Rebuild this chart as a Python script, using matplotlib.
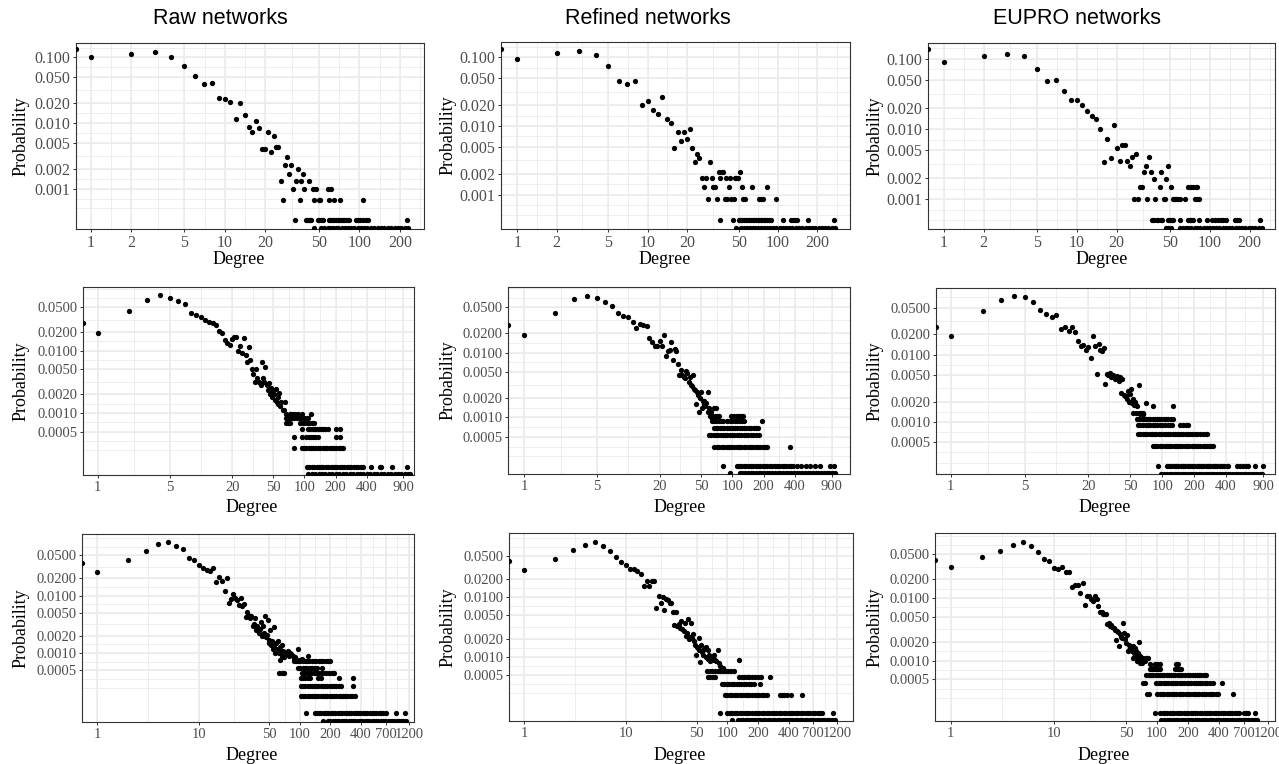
import matplotlib
matplotlib.use("Agg")
import matplotlib.pyplot as plt
import numpy as np

plt.rcParams['font.family'] = ['Liberation Serif', 'DejaVu Serif']

# ---------------- data (degree, probability) ----------------
# row 1
a1_pts = [(0.78, 0.1355), (1, 0.1), (2, 0.114), (3, 0.1206), (4, 0.1), (5, 0.0729), (6, 0.0513), (7, 0.0396),
          (8, 0.0415), (9, 0.0245), (10, 0.0231), (11, 0.021), (12, 0.01145), (13, 0.0201), (14, 0.0132),
          (15, 0.00863), (16, 0.00733), (17, 0.0109), (18, 0.00844), (19, 0.00408), (20, 0.00408), (21, 0.00733),
          (22, 0.00367), (23, 0.00637), (24, 0.00438), (25, 0.00438), (26, 0.00133), (27, 0.000667), (28, 0.00233),
          (29, 0.003), (30, 0.00167), (31, 0.00233), (32, 0.001), (34, 0.00133), (35, 0.002), (36, 0.000667),
          (37, 0.00133), (38, 0.00167), (39, 0.001), (42, 0.00133), (45, 0.001), (46, 0.000667), (48, 0.001),
          (50, 0.000667), (51, 0.000667), (59, 0.001), (62, 0.001), (60, 0.000667), (65, 0.000667), (72, 0.000667),
          (107, 0.000667)]
a1_levels = [0.000333, 0.00025]
a1_level_deg = [
    [33, 40, 41, 42, 43, 44, 49, 50, 52, 54, 60, 61, 63, 65, 67, 69, 71, 73, 75, 77, 80, 82, 84, 94, 98, 102, 107,
     112, 117, 227],
    [46, 52, 55, 58, 61, 64, 67, 70, 74, 78, 82, 87, 92, 97, 103, 109, 115, 122, 129, 137, 145, 154, 163, 173, 183,
     194, 205, 217, 230],
]

b1_pts = [(0.75, 0.1338), (1, 0.0935), (2, 0.1156), (3, 0.1224), (4, 0.1094), (5, 0.0739), (6, 0.0456), (7, 0.0408),
          (8, 0.0456), (9, 0.0204), (10, 0.0228), (11, 0.0172), (12, 0.0149), (13, 0.0261), (14, 0.0126),
          (15, 0.01125), (16, 0.00475), (17, 0.00832), (18, 0.00607), (19, 0.00832), (20, 0.00643), (21, 0.0091),
          (22, 0.00475), (23, 0.00303), (24, 0.00393), (25, 0.00347), (26, 0.00173), (27, 0.00131), (28, 0.00173),
          (29, 0.000855), (30, 0.00303), (31, 0.00173), (32, 0.00131), (33, 0.00131), (34, 0.000855), (35, 0.00217),
          (37, 0.00217), (38, 0.00217), (36, 0.00173), (40, 0.00173), (43, 0.00173), (39, 0.000855), (42, 0.00131),
          (41, 0.000855), (44, 0.000855), (46, 0.000855), (47, 0.00173), (48, 0.00173), (49, 0.00173), (51, 0.00217),
          (53, 0.00131), (54, 0.000855), (56, 0.000855), (63, 0.00131), (72, 0.000855), (74, 0.000855),
          (77, 0.000855), (83, 0.00131), (96, 0.000855)]
b1_levels = [0.000427, 0.00033]
b1_level_deg = [
    [36, 45, 50, 51, 52, 53, 55, 57, 59, 60, 62, 64, 66, 68, 70, 72, 74, 76, 78, 80, 82, 85, 88, 110, 127, 131, 135,
     141, 170, 267],
    [48, 52, 55, 58, 61, 64, 67, 70, 74, 78, 82, 87, 92, 97, 103, 109, 115, 122, 129, 137, 145, 154, 163, 173, 183,
     194, 205, 217, 230, 244, 258, 272],
]

c1_pts = [(0.762, 0.1388), (1, 0.0896), (2, 0.1104), (3, 0.1178), (4, 0.1104), (5, 0.0713), (6, 0.0475), (7, 0.0491),
          (8, 0.0342), (9, 0.0255), (10, 0.0261), (11, 0.0221), (12, 0.01815), (13, 0.0154), (14, 0.0138), (15, 0.01),
          (16, 0.0034), (17, 0.00724), (18, 0.00388), (19, 0.01135), (20, 0.0054), (21, 0.0035), (22, 0.00589),
          (23, 0.00589), (24, 0.0035), (25, 0.00295), (26, 0.00397), (27, 0.001), (28, 0.00443), (29, 0.001),
          (30, 0.0015), (31, 0.0015), (32, 0.00245), (33, 0.00295), (34, 0.001), (35, 0.00397), (36, 0.00245),
          (38, 0.00195), (39, 0.001), (42, 0.0015), (43, 0.00245), (45, 0.001), (46, 0.001), (47, 0.00195),
          (49, 0.00295), (51, 0.0015), (53, 0.001), (55, 0.001), (56, 0.001), (58, 0.001), (60, 0.001), (65, 0.001),
          (69, 0.0015), (72, 0.0015), (75, 0.0015), (77, 0.001), (79, 0.0015), (80, 0.001), (81, 0.0015), (83, 0.001)]
c1_levels = [0.000507, 0.000394]
c1_level_deg = [
    [37, 38, 40, 41, 43, 44, 49, 50, 52, 53, 60, 69, 71, 73, 75, 83, 95, 105, 110, 116, 122, 127, 133, 155, 160, 167,
     239],
    [47, 49, 51, 60, 63, 66, 69, 73, 77, 81, 85, 90, 95, 100, 106, 112, 118, 125, 132, 140, 148, 157, 166, 176, 186,
     197, 209, 221, 234, 246],
]

# row 2
a2_pts = [(0.72, 0.0279), (1, 0.0193), (2, 0.0431), (3, 0.0649), (4, 0.078), (5, 0.0707), (6, 0.064), (7, 0.0566),
          (8, 0.0405), (9, 0.037), (10, 0.035), (11, 0.031), (12, 0.029), (13, 0.028), (14, 0.026), (15, 0.0205),
          (16, 0.0195), (17, 0.015), (18, 0.0135), (19, 0.0125), (20, 0.0155), (21, 0.0165), (22, 0.0165),
          (23, 0.0100), (24, 0.012), (25, 0.0092), (26, 0.016), (27, 0.0085), (28, 0.0065), (29, 0.0115),
          (30, 0.0072), (31, 0.0050), (32, 0.0042), (33, 0.0032), (34, 0.0050), (35, 0.0036), (36, 0.0032),
          (37, 0.0030), (38, 0.0028), (39, 0.0065), (40, 0.0036), (41, 0.0031), (42, 0.0055), (43, 0.0028),
          (44, 0.0023), (45, 0.0030), (46, 0.0020), (47, 0.0022), (48, 0.0025), (49, 0.0018), (50, 0.0023),
          (51, 0.0020), (52, 0.0016), (53, 0.0024), (54, 0.0015), (55, 0.0018), (56, 0.0014), (57, 0.0021),
          (58, 0.0013), (60, 0.0015), (62, 0.0011), (64, 0.0011), (65, 0.0015), (66, 0.00095), (68, 0.00082),
          (70, 0.0007)]
a2_levels = [0.00095, 0.000816, 0.00068, 0.000544, 0.000408, 0.000272, 0.000136, 0.000104]
a2_level_deg = [
    [72, 75, 78, 82, 86, 94, 117],
    [67, 70, 73, 76, 80, 84, 88, 92, 100, 105, 109],
    [66, 72, 90, 96, 102, 108, 112, 118, 124],
    [94, 109, 114, 120, 126, 132, 138, 145, 152, 160, 168, 204, 223],
    [80, 94, 104, 110, 116, 122, 128, 135, 204, 223],
    [80, 94, 99, 104, 110, 116, 122, 128, 135, 142, 150, 158, 166, 175, 184, 194, 204, 215, 226, 237],
    [106, 112, 118, 124, 131, 138, 145, 153, 161, 170, 179, 188, 198, 209, 220, 232, 244, 257, 271, 285, 300, 316,
     333, 351, 370, 445, 535, 556, 710, 984],
    [109, 118, 127, 137, 148, 160, 173, 187, 202, 218, 235, 254, 274, 296, 320, 345, 373, 403, 435, 470, 507, 548,
     592, 639, 690, 745, 805, 870, 940, 1015, 1044],
]

b2_pts = [(0.70, 0.0267), (1, 0.0191), (2, 0.0412), (3, 0.067), (4, 0.0753), (5, 0.071), (6, 0.061), (7, 0.0528),
          (8, 0.0412), (9, 0.0371), (10, 0.036), (11, 0.030), (12, 0.024), (13, 0.028), (14, 0.027), (15, 0.026),
          (16, 0.017), (17, 0.0145), (18, 0.0128), (19, 0.0128), (20, 0.015), (21, 0.0125), (22, 0.019),
          (23, 0.0088), (24, 0.0105), (25, 0.011), (26, 0.0145), (27, 0.0078), (28, 0.0115), (29, 0.0105),
          (30, 0.0066), (31, 0.0046), (32, 0.0055), (33, 0.0045), (34, 0.0042), (35, 0.0041), (36, 0.0052),
          (37, 0.0048), (38, 0.0035), (39, 0.0042), (40, 0.0032), (41, 0.0031), (42, 0.0045), (43, 0.0028),
          (44, 0.0027), (45, 0.0016), (46, 0.0025), (47, 0.0022), (48, 0.0012), (49, 0.0020), (50, 0.0025),
          (51, 0.0014), (52, 0.0018), (53, 0.0016), (54, 0.0018), (55, 0.0015), (56, 0.0017), (58, 0.0025),
          (59, 0.0012), (60, 0.0014), (62, 0.0010), (63, 0.0012), (66, 0.0014), (70, 0.0014)]
b2_levels = [0.00106, 0.00088, 0.0007, 0.00053, 0.00035, 0.000176, 0.000139]
b2_level_deg = [
    [61, 63, 65, 68, 72, 75, 98, 104, 110, 116, 120, 126],
    [64, 67, 70, 74, 78, 82, 88, 94, 100, 106, 112, 118, 124, 130, 191],
    [66, 69, 72, 76, 80, 84, 88, 92, 97, 102, 107, 112, 118, 124, 130, 136, 143, 150, 160, 170, 177],
    [60, 63, 66, 69, 73, 77, 81, 85, 89, 94, 99, 104, 110, 116, 122, 128, 135, 142, 150, 157, 170, 180],
    [67, 71, 75, 79, 83, 88, 93, 98, 104, 110, 116, 122, 129, 136, 143, 151, 159, 167, 176, 186, 196, 206, 215, 358],
    [82, 110, 116, 122, 129, 136, 143, 151, 159, 167, 176, 186, 196, 206, 217, 229, 241, 254, 268, 282, 297, 313,
     330, 348, 366, 385, 416, 455, 510, 560, 620, 695, 867, 942],
    [95, 118, 125, 133, 141, 150, 159, 169, 179, 190, 202, 214, 227, 241, 256, 272, 289, 307, 326, 346, 367, 390,
     414, 440, 467, 496, 527, 560, 595, 632, 671, 713, 757, 804, 854, 907, 968],
]

c2_pts = [(0.727, 0.0258), (1, 0.0191), (2, 0.044), (3, 0.0656), (4, 0.0752), (5, 0.0718), (6, 0.0605), (7, 0.0466),
          (8, 0.0402), (9, 0.0358), (10, 0.0393), (11, 0.0243), (12, 0.0258), (13, 0.0227), (14, 0.0256),
          (15, 0.0215), (16, 0.0161), (17, 0.0133), (18, 0.0138), (19, 0.0119), (20, 0.0130), (21, 0.0089),
          (22, 0.0187), (23, 0.0133), (24, 0.00516), (25, 0.0144), (26, 0.0119), (27, 0.0112), (28, 0.0126),
          (29, 0.0037), (30, 0.0052), (31, 0.0050), (32, 0.0054), (33, 0.0046), (34, 0.0050), (35, 0.0047),
          (36, 0.0044), (37, 0.0049), (38, 0.0045), (39, 0.0041), (40, 0.0046), (41, 0.0027), (42, 0.0044),
          (43, 0.0025), (44, 0.0024), (45, 0.0024), (46, 0.0022), (47, 0.0029), (48, 0.0020), (49, 0.0026),
          (50, 0.0020), (51, 0.0031), (52, 0.0019), (53, 0.0022), (54, 0.0018), (55, 0.0020), (56, 0.0018),
          (58, 0.0017), (60, 0.0035), (62, 0.0013), (63, 0.0013), (65, 0.0013), (66, 0.0013), (70, 0.0019),
          (81, 0.0017), (127, 0.0017)]
c2_levels = [0.00136, 0.00111, 0.00089, 0.000664, 0.000445, 0.00022, 0.000171]
c2_level_deg = [
    [53, 56, 60, 63, 66],
    [58, 60, 64, 67, 70, 74, 77, 81, 85, 89, 94, 98, 104, 108, 113, 120, 127],
    [59, 62, 66, 70, 73, 77, 81, 85, 90, 95, 100, 106, 112, 118, 124, 148, 158, 166, 175],
    [59, 62, 65, 68, 72, 76, 80, 84, 88, 93, 98, 103, 108, 113, 119, 125, 131, 137, 144, 151, 158, 166, 174, 183,
     192, 202, 212, 225, 240, 256, 262],
    [82, 86, 90, 95, 100, 105, 110, 116, 122, 128, 134, 141, 148, 155, 163, 171, 180, 189, 198, 208, 218, 229, 240,
     252, 264, 277, 290, 303],
    [91, 110, 116, 122, 128, 135, 142, 149, 157, 165, 173, 182, 191, 201, 211, 222, 233, 245, 258, 271, 285, 300,
     315, 331, 348, 366, 385, 405, 420, 505, 540, 580, 620, 650, 750, 900],
    [98, 104, 110, 117, 124, 131, 139, 147, 156, 165, 175, 185, 196, 208, 220, 233, 247, 262, 277, 294, 311, 330,
     349, 370, 392, 415, 440, 466, 494, 523, 554, 587, 622, 659, 698, 740, 784, 830, 870],
]

# row 3
a3_pts = [(0.706, 0.0367), (1, 0.0252), (2, 0.0408), (3, 0.0585), (4, 0.0785), (5, 0.0851), (6, 0.0735),
          (7, 0.0643), (8, 0.0448), (9, 0.0419), (10, 0.0334), (11, 0.030), (12, 0.0281), (13, 0.0262), (14, 0.030),
          (15, 0.0175), (16, 0.0209), (17, 0.018), (18, 0.0121), (19, 0.020), (20, 0.0075), (21, 0.0088),
          (22, 0.0105), (23, 0.0092), (24, 0.0085), (25, 0.0068), (26, 0.0090), (27, 0.0065), (28, 0.0070),
          (29, 0.0042), (30, 0.0052), (31, 0.0046), (32, 0.0040), (33, 0.0044), (34, 0.0029), (35, 0.0032),
          (36, 0.0040), (37, 0.0025), (38, 0.0030), (39, 0.0022), (40, 0.0026), (41, 0.0035), (42, 0.0020),
          (43, 0.0029), (44, 0.0022), (45, 0.0045), (46, 0.0019), (47, 0.0021), (48, 0.0037), (49, 0.0017),
          (50, 0.0015), (51, 0.0025), (52, 0.0014), (53, 0.0016), (54, 0.0012), (55, 0.0028), (56, 0.0013),
          (57, 0.0010), (58, 0.0015), (60, 0.0012), (61, 0.0016), (62, 0.0010), (63, 0.0013), (64, 0.00075),
          (65, 0.0011), (66, 0.0014), (67, 0.0009), (68, 0.0011), (70, 0.00085), (72, 0.0010), (74, 0.00095),
          (76, 0.0011), (78, 0.0009), (80, 0.0010), (82, 0.00095), (85, 0.00088), (88, 0.0008), (90, 0.00085),
          (95, 0.0012), (98, 0.00075), (105, 0.0008), (120, 0.0009)]
a3_levels = [0.00073, 0.00055, 0.000456, 0.000365, 0.000273, 0.00018, 0.0000912, 0.000067]
a3_level_deg = [
    [88, 92, 96, 101, 106, 111, 117, 123, 130, 137, 145, 153, 161, 170, 180, 190, 200],
    [96, 101, 106, 112, 118, 125, 132, 140, 148, 165],
    [62, 66, 70, 104, 110, 116, 122, 129, 136, 143, 151, 160, 170, 180, 192, 205, 215],
    [103, 108, 113, 119, 125, 150, 160, 240, 330],
    [103, 108, 113, 119, 125, 131, 138, 145, 152, 160, 168, 177, 186, 196, 206, 217, 228, 240, 256, 335],
    [103, 108, 113, 119, 125, 131, 138, 145, 152, 160, 168, 177, 186, 196, 206, 217, 228, 240, 252, 265, 279, 294,
     310, 327, 346],
    [115, 140, 147, 155, 163, 172, 181, 191, 201, 212, 223, 235, 248, 261, 275, 290, 305, 321, 338, 356, 375, 395,
     416, 438, 461, 486, 512, 539, 568, 598, 630, 663, 700, 890, 1080],
    [169, 189, 199, 210, 221, 233, 245, 258, 272, 287, 302, 318, 335, 353, 372, 392, 413, 435, 458, 482, 508, 535,
     564, 594, 626, 659, 694, 731, 770, 811, 854, 900, 948, 999, 1050, 1110],
]

b3_pts = [(0.706, 0.040), (1, 0.0284), (2, 0.0439), (3, 0.0614), (4, 0.0764), (5, 0.0846), (6, 0.0725), (7, 0.059),
          (8, 0.0474), (9, 0.0391), (10, 0.0353), (11, 0.0298), (12, 0.0301), (13, 0.0273), (14, 0.0250),
          (15, 0.0153), (16, 0.0185), (17, 0.0157), (18, 0.0188), (19, 0.0190), (20, 0.0066), (21, 0.0104),
          (22, 0.0082), (23, 0.0100), (24, 0.0062), (25, 0.0095), (26, 0.0090), (27, 0.0080), (28, 0.0082),
          (29, 0.0058), (30, 0.0034), (31, 0.0057), (32, 0.0033), (33, 0.0036), (34, 0.0031), (35, 0.0041),
          (36, 0.0030), (37, 0.0027), (38, 0.0037), (39, 0.0023), (40, 0.0025), (41, 0.0044), (42, 0.0020),
          (43, 0.0022), (44, 0.0037), (45, 0.0021), (46, 0.0024), (47, 0.0019), (48, 0.0016), (49, 0.0011),
          (50, 0.0015), (51, 0.0014), (52, 0.0021), (53, 0.0013), (54, 0.00082), (55, 0.0016), (56, 0.0012),
          (57, 0.0013), (58, 0.0011), (60, 0.0014), (61, 0.0010), (62, 0.0015), (64, 0.0013), (65, 0.00095),
          (66, 0.0011), (68, 0.00085), (70, 0.0009), (72, 0.0010), (74, 0.0011), (76, 0.0009), (78, 0.00085),
          (80, 0.0013), (82, 0.0008), (85, 0.0007), (90, 0.00065), (130, 0.0009)]
b3_levels = [0.00059, 0.00047, 0.000354, 0.000234, 0.000118, 0.0000877]
b3_level_deg = [
    [63, 67, 71, 75, 80, 85, 90, 96, 102, 108, 115],
    [64, 68, 72, 76, 130, 138, 146, 155, 165, 175, 188, 200, 215, 262],
    [88, 93, 98, 104, 110, 116, 123, 130, 137, 145, 153, 162, 172, 182, 210],
    [94, 100, 106, 112, 118, 125, 132, 140, 148, 156, 165, 175, 185, 195, 206, 218, 230, 245, 330, 345, 365, 390,
     420, 540],
    [84, 100, 106, 112, 118, 125, 132, 140, 148, 156, 165, 175, 185, 195, 206, 218, 230, 243, 257, 272, 287, 304,
     321, 339, 358, 378, 400, 423, 447, 472, 499, 527, 557, 589, 622, 657, 694, 734, 775, 819, 850, 1100],
    [110, 128, 135, 143, 151, 160, 169, 179, 189, 200, 211, 223, 236, 250, 264, 279, 295, 312, 330, 349, 369, 390,
     412, 436, 461, 487, 515, 545, 576, 609, 644, 681, 720, 761, 805, 851, 900, 951, 1005, 1062, 1140],
]

c3_pts = [(0.705, 0.0402), (1, 0.031), (2, 0.0455), (3, 0.0561), (4, 0.0717), (5, 0.0791), (6, 0.0674), (7, 0.054),
          (8, 0.0423), (9, 0.0397), (10, 0.0303), (11, 0.0297), (12, 0.031), (13, 0.0258), (14, 0.0258), (15, 0.015),
          (16, 0.016), (17, 0.016), (18, 0.012), (19, 0.0172), (20, 0.0076), (21, 0.0106), (22, 0.0106),
          (23, 0.0098), (24, 0.0091), (25, 0.0106), (26, 0.0098), (27, 0.0074), (28, 0.0060), (29, 0.0060),
          (30, 0.0056), (31, 0.0055), (32, 0.0056), (33, 0.0038), (34, 0.0040), (35, 0.0036), (36, 0.0037),
          (37, 0.0034), (38, 0.0033), (39, 0.0031), (40, 0.0021), (41, 0.0030), (42, 0.0029), (43, 0.0017),
          (44, 0.0027), (45, 0.0024), (46, 0.0023), (47, 0.0040), (48, 0.0028), (49, 0.0022), (50, 0.0019),
          (51, 0.0026), (52, 0.0014), (53, 0.0015), (54, 0.0018), (55, 0.0016), (56, 0.0015), (57, 0.0014),
          (58, 0.0017), (59, 0.0011), (60, 0.0013), (61, 0.0016), (62, 0.0014), (63, 0.0012), (64, 0.0010),
          (65, 0.0013), (66, 0.0011), (67, 0.0020), (68, 0.0012), (69, 0.0009), (70, 0.0010), (72, 0.0009),
          (74, 0.0011), (76, 0.0010), (78, 0.0011), (80, 0.0011), (82, 0.0011), (85, 0.00087), (90, 0.00075),
          (95, 0.00087)]
c3_levels = [0.00087, 0.000725, 0.00058, 0.000435, 0.00029, 0.000147, 0.000111]
c3_level_deg = [
    [100, 108, 152, 160],
    [86, 90, 94, 98, 103, 108, 148, 155, 163, 170],
    [79, 83, 87, 92, 97, 102, 107, 112, 118, 124, 130, 137, 144, 151, 159, 167, 176, 187, 200, 211, 222, 234, 246,
     258, 270, 285, 298],
    [73, 77, 98, 104, 110, 116, 122, 129, 136, 143, 150, 158, 166, 175, 184, 194, 204, 215, 226, 238, 250, 262, 276,
     290, 305, 330, 350, 430],
    [80, 84, 100, 106, 112, 118, 125, 132, 139, 146, 154, 162, 171, 180, 190, 200, 210, 221, 233, 245, 258, 272, 286,
     301, 317, 334, 352, 370, 390, 540],
    [96, 108, 114, 120, 126, 133, 140, 147, 155, 163, 172, 181, 191, 201, 212, 223, 235, 247, 260, 274, 289, 304,
     320, 337, 355, 374, 394, 415, 437, 460, 485, 510, 537, 566, 596, 628, 700, 730, 760, 900],
    [110, 118, 124, 131, 138, 145, 153, 161, 170, 179, 188, 198, 209, 220, 232, 244, 257, 271, 285, 300, 316, 333,
     351, 370, 390, 411, 433, 456, 480, 506, 533, 561, 591, 623, 656, 691, 728, 767, 808, 851, 896, 940],
]

col_titles = ['Raw networks', 'Refined networks', 'EUPRO networks']

x_breaks = [[1, 2, 5, 10, 20, 50, 100, 200],
            [1, 5, 20, 50, 100, 200, 400, 900],
            [1, 10, 50, 100, 200, 400, 700, 1200]]
y_breaks = [[0.001, 0.002, 0.005, 0.01, 0.02, 0.05, 0.1],
            [0.0005, 0.001, 0.002, 0.005, 0.01, 0.02, 0.05],
            [0.0005, 0.001, 0.002, 0.005, 0.01, 0.02, 0.05]]
y_fmt = ['{:.3f}', '{:.4f}', '{:.4f}']

# ---------------- layout (pixels in a 1279 x 764 canvas) ----------------
W, H = 1279, 764
# (left, right, top, bottom), x-limit right, y-limits
panels = [
    [(a1_pts, a1_levels, a1_level_deg, (76, 424, 43, 229), 303, (0.000243, 0.166)),
     (b1_pts, b1_levels, b1_level_deg, (501, 850, 42, 229), 357, (0.000316, 0.1675)),
     (c1_pts, c1_levels, c1_level_deg, (928, 1275, 43, 229), 310, (0.000378, 0.167))],
    [(a2_pts, a2_levels, a2_level_deg, (83, 414, 287, 475), 1150, (0.0001, 0.1064)),
     (b2_pts, b2_levels, b2_level_deg, (508, 850, 287, 474), 1349, (0.000134, 0.1035)),
     (c2_pts, c2_levels, c2_level_deg, (936, 1275, 288, 474), 1161, (0.000169, 0.0977))],
    [(a3_pts, a3_levels, a3_level_deg, (82, 414, 534, 722), 1334, (0.0000634, 0.1175)),
     (b3_pts, b3_levels, b3_level_deg, (509, 853, 533, 721), 1726, (0.0000857, 0.1196)),
     (c3_pts, c3_levels, c3_level_deg, (935, 1275, 533, 721), 1393, (0.0001076, 0.110))],
]
degree_label_x = [[239, 665, 1102], [252, 680, 1105], [252, 680, 1104]]
degree_label_y = [259, 508, 755]
prob_label_x = [21, 448, 875]
title_x = [220, 648, 1077]


def gg_minor(breaks, lo, hi):
    # ggplot2 regular_minor_breaks in log10 space
    lb = np.log10(sorted(breaks))
    bd = lb[1] - lb[0]
    if np.log10(lo) < lb[0]:
        lb = np.r_[lb[0] - bd, lb]
    if np.log10(hi) > lb[-1]:
        lb = np.r_[lb, lb[-1] + bd]
    vals = list(10 ** lb) + list(10 ** ((lb[:-1] + lb[1:]) / 2))
    return [v for v in vals if lo < v < hi]


fig = plt.figure(figsize=(W / 100, H / 100), dpi=100)
grid_col = '#EBEBEB'

for r, row in enumerate(panels):
    for c, (pts, levels, level_deg, box, xr, ylim) in enumerate(row):
        left, right, top, bottom = box
        ax = fig.add_axes([left / W, 1 - bottom / H, (right - left) / W, (bottom - top) / H])
        deg = [d for d, p in pts]
        prob = [p for d, p in pts]
        for lvl, dl in zip(levels, level_deg):
            deg += dl
            prob += [lvl] * len(dl)
        ax.set_xscale('log')
        ax.set_yscale('log')
        xlim = (min(deg), xr)
        ax.set_xlim(xlim)
        ax.set_ylim(ylim)

        xb = [v for v in x_breaks[r] if xlim[0] <= v <= xlim[1]]
        yb = [v for v in y_breaks[r] if ylim[0] <= v <= ylim[1]]
        for v in gg_minor(x_breaks[r], *xlim):
            ax.axvline(v, color=grid_col, lw=0.6, zorder=0)
        for v in gg_minor(y_breaks[r], *ylim):
            ax.axhline(v, color=grid_col, lw=0.6, zorder=0)
        for v in xb:
            ax.axvline(v, color=grid_col, lw=1.1, zorder=0.5)
        for v in yb:
            ax.axhline(v, color=grid_col, lw=1.1, zorder=0.5)

        ax.plot(deg, prob, 'o', color='black', ms=3.8, mew=0, zorder=3)

        ax.xaxis.set_major_locator(plt.FixedLocator(xb))
        ax.xaxis.set_major_formatter(plt.FixedFormatter([str(v) for v in xb]))
        ax.yaxis.set_major_locator(plt.FixedLocator(yb))
        ax.yaxis.set_major_formatter(plt.FixedFormatter([y_fmt[r].format(v) for v in yb]))
        ax.xaxis.set_minor_locator(plt.NullLocator())
        ax.yaxis.set_minor_locator(plt.NullLocator())
        fs = 11.5 if r == 0 else 10.5
        ax.tick_params(length=2.5, width=0.7, color='#333333', labelcolor='#4D4D4D', labelsize=fs, pad=1.5)
        for s in ax.spines.values():
            s.set_color('#333333')
            s.set_linewidth(0.8)

        fig.text(degree_label_x[r][c] / W, 1 - degree_label_y[r] / H, 'Degree',
                 ha='center', va='center', fontsize=13)
        fig.text(prob_label_x[c] / W, 1 - (top + bottom) / 2 / H, 'Probability',
                 ha='center', va='center', rotation=90, fontsize=13)

for c, t in enumerate(col_titles):
    fig.text(title_x[c] / W, 1 - 19 / H, t, ha='center', va='center', fontsize=15.5,
             family=['Liberation Sans', 'DejaVu Sans'])

fig.savefig('out.png', dpi=100, facecolor='white')
